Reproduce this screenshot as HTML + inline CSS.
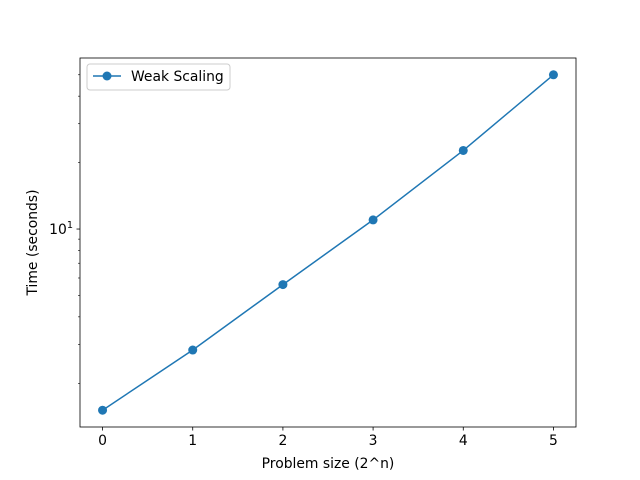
<!DOCTYPE html>
<html><head><meta charset="utf-8"><style>body{margin:0;background:#fff}svg{display:block;font-family:"DejaVu Sans","Liberation Sans",sans-serif}</style></head>
<body>
<svg id="chart" width="640" height="480"></svg>
<script>
const categories = [0, 1, 2, 3, 4, 5];
const timeValues = [1.51, 2.83, 5.6, 11.0, 22.7, 50];
const xTickLabels = ["0", "1", "2", "3", "4", "5"];
const seriesName = "Weak Scaling";

const NS = "http://www.w3.org/2000/svg";
const svg = document.getElementById("chart");
const L = 80, R = 576, T = 58, B = 427;
const FS = 13.9;
function mk(tag, attrs, parent) { const e = document.createElementNS(NS, tag); for (const k in attrs) e.setAttribute(k, attrs[k]); (parent || svg).appendChild(e); return e; }
const xmin = Math.min(...categories), xmax = Math.max(...categories), xpad = (xmax - xmin) * 0.05;
const lmin = Math.log10(Math.min(...timeValues)), lmax = Math.log10(Math.max(...timeValues)), lpad = (lmax - lmin) * 0.05;
const xs = v => L + (v - (xmin - xpad)) / ((xmax + xpad) - (xmin - xpad)) * (R - L);
const ys = v => B - (Math.log10(v) - (lmin - lpad)) / ((lmax + lpad) - (lmin - lpad)) * (B - T);

for (let d = -1; d <= 3; d++) for (let m = 1; m <= 9; m++) {
  const v = m * Math.pow(10, d), y = ys(v);
  if (y < T - 0.5 || y > B + 0.5) continue;
  const t = mk("line", {x1: L, x2: L - (m === 1 ? 3.5 : 2), y1: y, y2: y, stroke: "#000", "stroke-width": m === 1 ? 0.8 : 0.6});
  
  
  if (m === 1) {
    const tx = mk("text", {x: L - 7, y: y + 5, "text-anchor": "end", "font-size": FS});
    
    
    tx.innerHTML = '10<tspan dy="-6" font-size="9.7">' + d + '</tspan>';
  }
}
categories.forEach((c, i) => {
  const x = xs(c);
  const t = mk("line", {x1: x, x2: x, y1: B, y2: B + 3.5, stroke: "#000", "stroke-width": 0.8});
  
  
  const tx = mk("text", {x: x, y: B + 18, "text-anchor": "middle", "font-size": FS});
  
  
  tx.textContent = xTickLabels[i];
});
const pts = categories.map((c, i) => xs(c) + "," + ys(timeValues[i])).join(" ");
const line = mk("polyline", {points: pts, fill: "none", stroke: "#1f77b4", "stroke-width": 1.5});


categories.forEach((c, i) => {
  const p = mk("circle", {cx: xs(c), cy: ys(timeValues[i]), r: 4.5, fill: "#1f77b4"});
  
  
});
const fr = mk("rect", {x: L, y: T, width: R - L, height: B - T, fill: "none", stroke: "#000", "stroke-width": 0.8});


const xt = mk("text", {x: (L + R) / 2, y: 468, "text-anchor": "middle", "font-size": FS});


xt.textContent = "Problem size (2^n)";
const yt = mk("text", {x: 0, y: 0, "text-anchor": "middle", "font-size": FS, transform: "translate(37," + ((T + B) / 2) + ") rotate(-90)"});


yt.textContent = "Time (seconds)";
const lg = mk("g", {});


mk("rect", {x: 87, y: 64, width: 143, height: 26, rx: 3, fill: "#fff", stroke: "#ccc", "stroke-width": 1}, lg);
mk("line", {x1: 93, x2: 121, y1: 76, y2: 76, stroke: "#1f77b4", "stroke-width": 1.5}, lg);
mk("circle", {cx: 107, cy: 76, r: 4.5, fill: "#1f77b4"}, lg);
const lt = mk("text", {x: 131, y: 81, "font-size": FS}, lg);


lt.textContent = seriesName;
</script>
</body></html>
